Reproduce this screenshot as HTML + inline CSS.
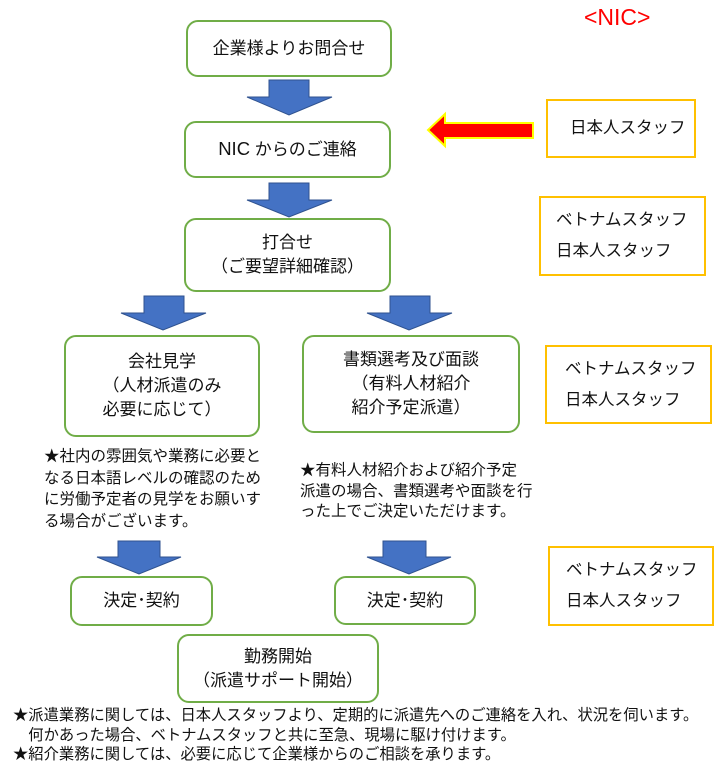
<!DOCTYPE html>
<html><head><meta charset="utf-8"><style>
body{margin:0;width:724px;height:776px;background:#fff;position:relative;overflow:hidden;font-family:"Liberation Sans","Noto Sans CJK JP",sans-serif;color:#111}
.b{position:absolute;box-sizing:border-box;border:2px solid #70ad47;border-radius:12px;display:flex;align-items:center;justify-content:center;text-align:center;font-size:17px;line-height:24px}
.s{position:absolute;box-sizing:border-box;border:2px solid #ffc000;font-size:16.5px;line-height:31px;display:flex;flex-direction:column;justify-content:center;padding-left:20px}
.n{position:absolute;font-size:15.5px;line-height:21.5px;white-space:nowrap}
</style></head><body>
<svg width="724" height="776" style="position:absolute;left:0;top:0">
<g fill="#4472c4" stroke="#2f528f" stroke-width="1">
<polygon points="269,80 309,80 309,97 332,97 289,115 247,97 269,97"/>
<polygon points="269,183 309,183 309,200 332,200 289,217 247,200 269,200"/>
<polygon points="144,296 184,296 184,313 206,313 163,330 121,313 144,313"/>
<polygon points="390,296 430,296 430,313 452,313 409,330 367,313 390,313"/>
<polygon points="118,541 160,541 160,557 181,557 139,574 97,557 118,557"/>
<polygon points="383,541 426,541 426,557 451,557 409,574 367,557 383,557"/>
</g>
<polygon points="428,130 445,114 445,123 533,123 533,138 445,138 445,146" fill="#f00" stroke="#ff0" stroke-width="2"/>
</svg>
<div style="position:absolute;left:584px;top:4px;font-size:23px;color:#f00">&lt;NIC&gt;</div>
<div class="b" style="left:186px;top:20px;width:206px;height:57px">企業様よりお問合せ</div>
<div class="b" style="left:184px;top:121px;width:207px;height:57px"><span><span style="font-size:18.5px">NIC</span> からのご連絡</span></div>
<div class="b" style="left:184px;top:218px;width:207px;height:74px">打合せ<br>（ご要望詳細確認）</div>
<div class="b" style="left:64px;top:335px;width:196px;height:102px">会社見学<br>（人材派遣のみ<br>必要に応じて）</div>
<div class="b" style="left:302px;top:335px;width:218px;height:98px">書類選考及び面談<br>（有料人材紹介<br>紹介予定派遣）</div>
<div class="b" style="left:70px;top:576px;width:143px;height:50px">決定･契約</div>
<div class="b" style="left:334px;top:576px;width:142px;height:49px">決定･契約</div>
<div class="b" style="left:177px;top:634px;width:202px;height:69px">勤務開始<br>（派遣サポート開始）</div>
<div class="s" style="left:546px;top:99px;width:150px;height:59px;padding-left:22px">日本人スタッフ</div>
<div class="s" style="left:539px;top:196px;width:167px;height:80px;padding-left:15px"><span>ベトナムスタッフ</span><span>日本人スタッフ</span></div>
<div class="s" style="left:545px;top:345px;width:167px;height:79px;padding-left:18px"><span>ベトナムスタッフ</span><span>日本人スタッフ</span></div>
<div class="s" style="left:548px;top:546px;width:166px;height:80px;padding-left:16px"><span>ベトナムスタッフ</span><span>日本人スタッフ</span></div>
<div class="n" style="left:44px;top:446px">★社内の雰囲気や業務に必要と<br>なる日本語レベルの確認のため<br>に労働予定者の見学をお願いす<br>る場合がございます。</div>
<div class="n" style="left:300px;top:461px;line-height:20.5px">★有料人材紹介および紹介予定<br>派遣の場合、書類選考や面談を行<br>った上でご決定いただけます。</div>
<div class="n" style="left:13px;top:706px;font-size:15.3px;line-height:19.5px">★派遣業務に関しては、日本人スタッフより、定期的に派遣先へのご連絡を入れ、状況を伺います。<br>&#12288;何かあった場合、ベトナムスタッフと共に至急、現場に駆け付けます。<br>★紹介業務に関しては、必要に応じて企業様からのご相談を承ります。</div>
</body></html>
